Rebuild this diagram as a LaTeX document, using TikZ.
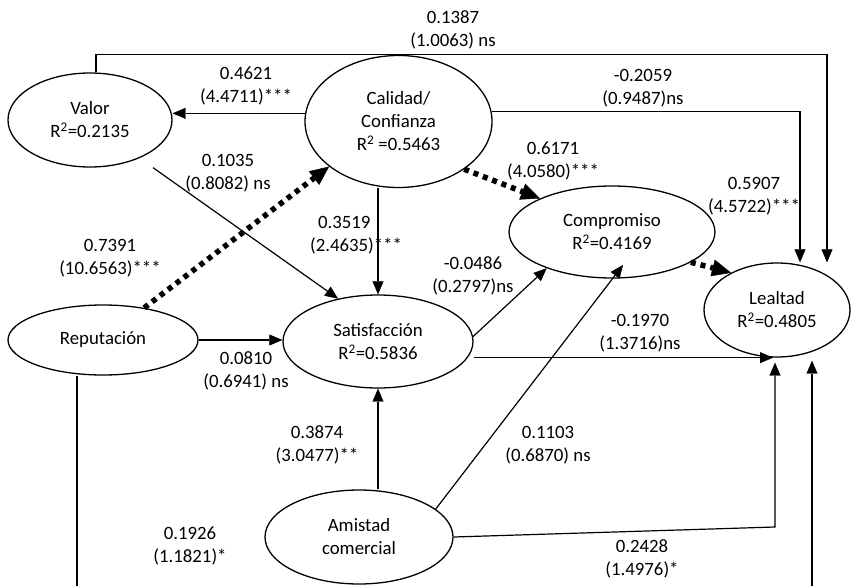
\documentclass[tikz,border=0pt]{standalone}
\usepackage{fontspec}
\setmainfont{Carlito}
\usetikzlibrary{arrows.meta,shapes.geometric}
\begin{document}
\begin{tikzpicture}[x=1pt,y=-1pt,
  every node/.style={font=\fontsize{18.8}{23}\selectfont},
  construct/.style={draw, ellipse, line width=1.3pt, inner sep=0pt, align=center},
  link/.style={line width=1.2pt, -{Triangle[length=13pt,width=11pt,line width=0.4pt]}},
  keylink/.style={line width=5.5pt, dash pattern=on 5pt off 5pt,
    -{Triangle[length=19pt,width=17pt,line width=0.4pt]}},
  coef/.style={align=center, inner sep=0pt}]

\useasboundingbox (0,0) rectangle (851,586);
\clip (0,0) rectangle (851,586);

% constructs
\node[construct, minimum width=164pt, minimum height=94pt] (valor) at (90,120)
  {Valor\\R\textsuperscript{2}=0.2135};
\node[construct, minimum width=187pt, minimum height=132pt] (calidad) at (398.5,121.5)
  {Calidad/\\Confianza\\R\textsuperscript{2} =0.5463};
\node[construct, minimum width=190pt, minimum height=70pt] (reput) at (103,340)
  {Reputación};
\node[construct, minimum width=190pt, minimum height=93pt] (satis) at (378,341.5)
  {Satisfacción\\R\textsuperscript{2}=0.5836};
\node[construct, minimum width=206pt, minimum height=92pt] (compro) at (612,232)
  {Compromiso\\R\textsuperscript{2}=0.4169};
\node[construct, minimum width=146pt, minimum height=94pt] (lealtad) at (777,310)
  {Lealtad\\R\textsuperscript{2}=0.4805};
\node[construct, minimum width=188pt, minimum height=94pt] (amistad) at (359,537)
  {Amistad\\comercial};

% path coefficients
\node[coef] (c1387) at (453,30) {0.1387\\(1.0063) ns};
\node[coef] (c4621) at (246,86) {0.4621\\(4.4711)***};
\node[coef] (c2059) at (643,88) {-0.2059\\(0.9487)ns};
\node[coef] (c1035) at (228,173) {0.1035\\(0.8082) ns};
\node[coef] (c7391) at (110,258) {0.7391\\(10.6563)***};
\node[coef, align=left] (c3519) at (356,235) {\hspace*{8pt}0.3519\\(2.4635)***};
\node[coef] (c0810) at (246,371) {0.0810\\(0.6941) ns};
\node[coef] (c6171) at (553,161) {0.6171\\(4.0580)***};
\node[coef] (c5907) at (754,196) {0.5907\\(4.5722)***};
\node[coef] (c0486) at (473,276) {-0.0486\\(0.2797)ns};
\node[coef] (c1970) at (640,333) {-0.1970\\(1.3716)ns};
\node[coef] (c3874) at (317,445) {0.3874\\(3.0477)**};
\node[coef] (c1103) at (548,445) {0.1103\\(0.6870) ns};
\node[coef] (c1926) at (190,546) {0.1926\\(1.1821)*};
\node[coef] (c2428) at (642,559) {0.2428\\(1.4976)*};

% structural paths
\draw[link] ([xshift=6pt]valor.north) -- ++(0,-18) -| ([xshift=50pt]lealtad.north);
\draw[link] (calidad.6) -| ([xshift=23pt]lealtad.north);
\draw[link] (calidad.175) -- (calidad.175 -| valor.east);
\draw[link] ([xshift=63pt]valor.south) -- (satis.133);
\draw[keylink] (reput.38) -- (calidad.213);
\draw[link] (satis.north |- calidad.south) -- (satis.north);
\draw[link] (reput.east) -- (reput.east -| satis.west);
\draw[keylink] (calidad.-36) -- (compro.155);
\draw[keylink] (compro.-21) -- (lealtad.141);
\draw[link] (satis.3) -- (compro.209);
\draw[link] (lealtad.south -| satis.east) -- ([xshift=-4pt]lealtad.south);
\draw[link] (satis.south |- amistad.north) -- (satis.south);
\draw[link] (amistad.20) -- ([xshift=11pt,yshift=-33pt]compro.center);
\coordinate (amc) at (775,527);
\draw[link, shorten >=5pt] (amistad.east) -- (amc) -- (amc |- lealtad.south);
\coordinate (repc) at (77,620);
\draw[link, shorten >=3pt] ([xshift=-26pt]reput.south) -- (repc) -| ([xshift=35pt]lealtad.south);
\end{tikzpicture}
\end{document}
